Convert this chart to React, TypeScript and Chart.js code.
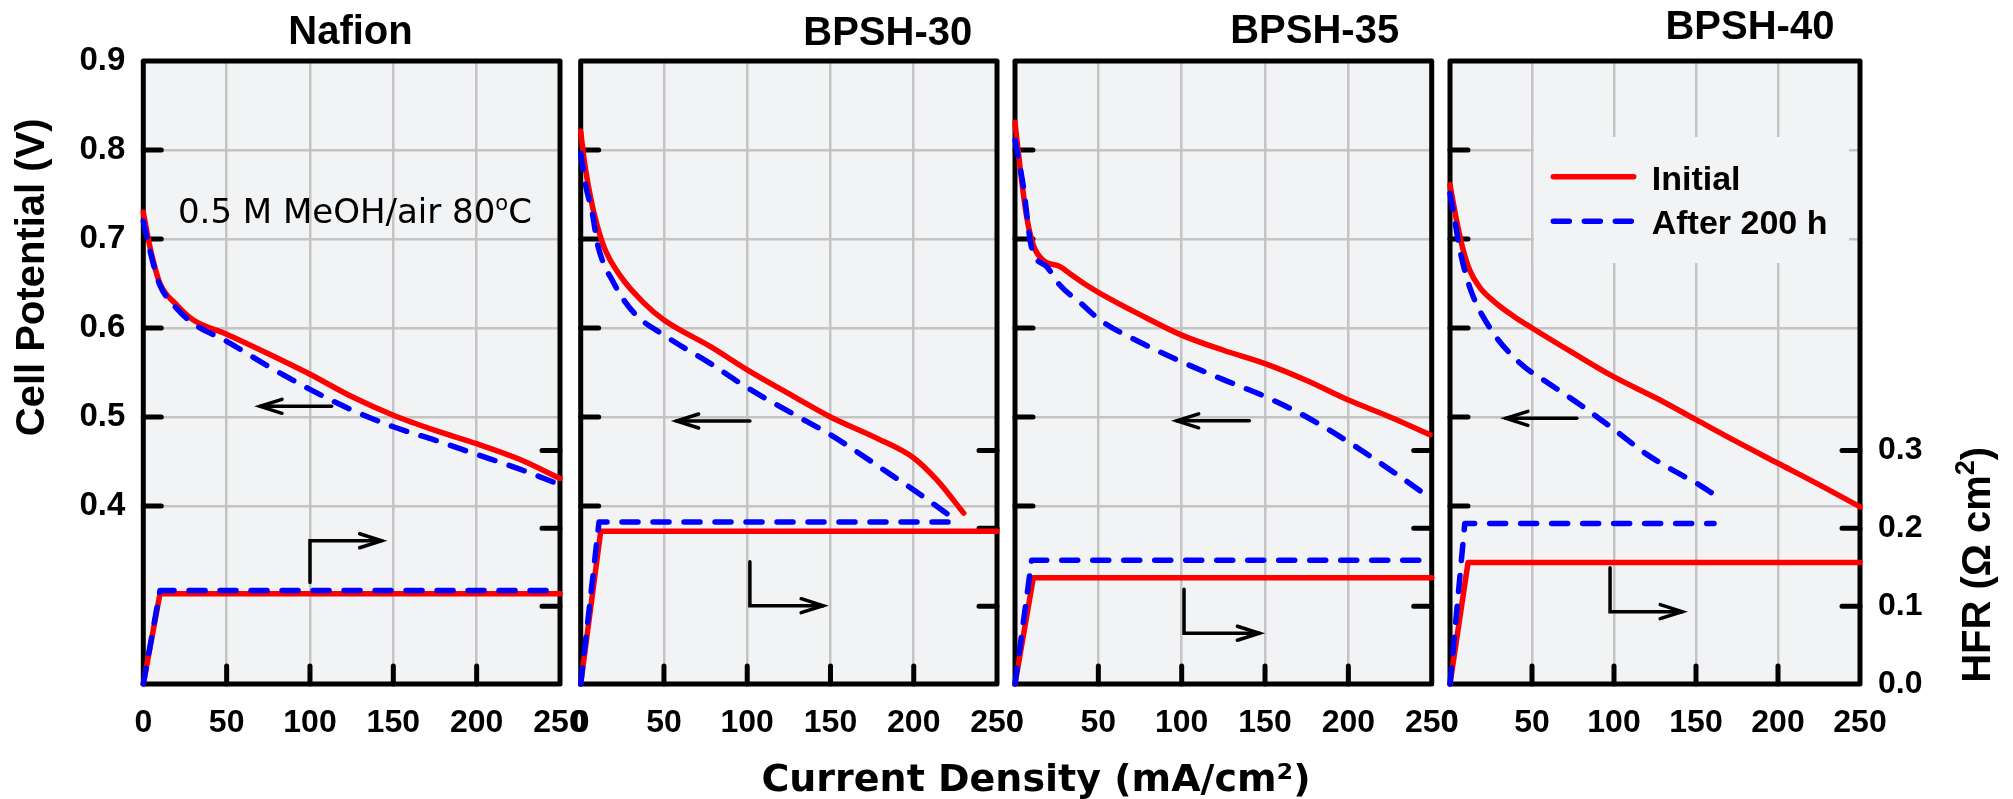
import { useEffect, useRef } from "react";
import { Chart, registerables } from "chart.js";

Chart.register(...registerables);

const PAGE_W = 2013;
const PAGE_H = 799;

// ---------- axes ----------
const X_MIN = 0;
const X_MAX = 250;
const X_TICKS = [0, 50, 100, 150, 200, 250];
const X_TICK_MARKS = [50, 100, 150, 200];
const V_MIN = 0.2;
const V_MAX = 0.9;
const V_TICKS = [0.4, 0.5, 0.6, 0.7, 0.8, 0.9];
const V_TICK_MARKS = [0.4, 0.5, 0.6, 0.7, 0.8];
const HFR_MIN = 0;
const HFR_MAX = 0.8;
const HFR_TICKS = [0.0, 0.1, 0.2, 0.3];
const HFR_TICK_MARKS = [0.1, 0.2, 0.3];

const PANEL_TITLES = ["Nafion", "BPSH-30", "BPSH-35", "BPSH-40"];
const SERIES_LABELS = ["Initial", "After 200 h"];

// ---------- Nafion ----------
const nafionInitX = [0, 3, 6, 10, 20, 30, 50, 75, 100, 125, 150, 175, 200, 225, 250];
const nafionInitV = [0.73, 0.70, 0.675, 0.65, 0.626, 0.609, 0.593, 0.571, 0.548, 0.523, 0.502, 0.485, 0.470, 0.453, 0.431];
const nafionAfterX = [0, 3, 6, 10, 20, 30, 50, 75, 100, 125, 150, 175, 200, 225, 250];
const nafionAfterV = [0.72, 0.695, 0.672, 0.648, 0.622, 0.605, 0.585, 0.557, 0.531, 0.508, 0.489, 0.474, 0.458, 0.442, 0.424];
const nafionHfrInitX = [0, 10, 250];
const nafionHfrInit = [0, 0.116, 0.116];
const nafionHfrAfterX = [0, 10, 250];
const nafionHfrAfter = [0, 0.12, 0.12];

// ---------- BPSH-30 ----------
const bpsh30InitX = [0, 2, 4, 8, 14, 24, 38, 50, 78, 100, 128, 150, 178, 200, 214, 230];
const bpsh30InitV = [0.821, 0.79, 0.766, 0.729, 0.691, 0.658, 0.628, 0.609, 0.579, 0.553, 0.523, 0.500, 0.476, 0.454, 0.429, 0.392];
const bpsh30AfterX = [0, 3, 7, 10, 20, 32, 50, 78, 100, 128, 150, 188, 200, 221];
const bpsh30AfterV = [0.796, 0.76, 0.729, 0.695, 0.65, 0.617, 0.592, 0.560, 0.533, 0.503, 0.48, 0.433, 0.418, 0.39];
const bpsh30HfrInitX = [0, 12, 250];
const bpsh30HfrInit = [0, 0.196, 0.196];
const bpsh30HfrAfterX = [0, 11, 221];
const bpsh30HfrAfter = [0, 0.208, 0.208];

// ---------- BPSH-35 ----------
const bpsh35InitX = [0, 3, 7, 11, 17, 27, 33, 43, 51, 75, 100, 125, 150, 175, 200, 225, 249];
const bpsh35InitV = [0.831, 0.781, 0.725, 0.693, 0.676, 0.669, 0.661, 0.648, 0.639, 0.615, 0.592, 0.575, 0.56, 0.541, 0.519, 0.50, 0.48];
const bpsh35AfterX = [0, 5, 10, 19, 27, 40, 51, 75, 100, 125, 150, 175, 200, 231, 249];
const bpsh35AfterV = [0.811, 0.759, 0.69, 0.669, 0.648, 0.627, 0.609, 0.584, 0.562, 0.542, 0.523, 0.50, 0.472, 0.433, 0.409];
const bpsh35HfrInitX = [0, 11, 250];
const bpsh35HfrInit = [0, 0.1365, 0.1365];
const bpsh35HfrAfterX = [0, 10, 250];
const bpsh35HfrAfter = [0, 0.159, 0.159];

// ---------- BPSH-40 ----------
const bpsh40InitX = [0, 4, 8, 12, 18, 28, 39, 50, 75, 100, 126, 150, 175, 200, 225, 250];
const bpsh40InitV = [0.761, 0.721, 0.688, 0.665, 0.646, 0.628, 0.613, 0.600, 0.572, 0.545, 0.521, 0.497, 0.472, 0.448, 0.424, 0.399];
const bpsh40AfterX = [0, 3, 6, 12, 24, 43, 60, 80, 100, 120, 140, 150, 161];
const bpsh40AfterV = [0.751, 0.72, 0.688, 0.646, 0.601, 0.56, 0.538, 0.513, 0.486, 0.458, 0.436, 0.426, 0.413];
const bpsh40HfrInitX = [0, 11, 250];
const bpsh40HfrInit = [0, 0.156, 0.156];
const bpsh40HfrAfterX = [0, 9, 161];
const bpsh40HfrAfter = [0, 0.206, 0.206];

// ---------- annotation arrows (data units: x mA/cm2, y V) ----------
const nafionArrows = [
  [[113, 0.512], [70, 0.512]],
  [[100, 0.314], [100, 0.361], [143, 0.361]],
];
const bpsh30Arrows = [
  [[101.6, 0.4955], [57.6, 0.4955]],
  [[101.6, 0.3374], [101.6, 0.288], [145.6, 0.288]],
];
const bpsh35Arrows = [
  [[140.6, 0.4957], [97, 0.4957]],
  [[101.4, 0.3064], [101.4, 0.257], [146.6, 0.257]],
];
const bpsh40Arrows = [
  [[77.3, 0.4985], [34.1, 0.4985]],
  [[97.6, 0.3307], [97.6, 0.2813], [141.6, 0.2813]],
];

// ---------- styles ----------
const BG = "#f2f3f5";
const GRID = "#c4c4c4";
const RED = "#ff0000";
const BLUE = "#0000ff";
const DASH = [16, 15];
const LINE_W = 5.5;
const ARIAL = '"Liberation Sans", Arial, sans-serif';
const VERDANA = '"DejaVu Sans", Verdana, sans-serif';

const TOP = 61;
const BOTTOM = 684;
const XH = 80;
const YW = 100;
const Y1W = 100;

const toPts = (xs: number[], ys: number[]) => xs.map((x, i) => ({ x, y: ys[i] }));

const panels = [
  {
    title: PANEL_TITLES[0], left: 143.3, right: 560, titleX: 124.3, titleRaise: 16.7,
    init: toPts(nafionInitX, nafionInitV), after: toPts(nafionAfterX, nafionAfterV),
    hInit: toPts(nafionHfrInitX, nafionHfrInit), hAfter: toPts(nafionHfrAfterX, nafionHfrAfter),
    arrows: nafionArrows, yLabels: true, y1Labels: false, yTitle: true, note: true, legend: false, xTitle: false, y1Title: false,
  },
  {
    title: PANEL_TITLES[1], left: 580.7, right: 997, titleX: 184.4, titleRaise: 16,
    init: toPts(bpsh30InitX, bpsh30InitV), after: toPts(bpsh30AfterX, bpsh30AfterV),
    hInit: toPts(bpsh30HfrInitX, bpsh30HfrInit), hAfter: toPts(bpsh30HfrAfterX, bpsh30HfrAfter),
    arrows: bpsh30Arrows, yLabels: false, y1Labels: false, yTitle: false, note: false, legend: false, xTitle: true, y1Title: false,
  },
  {
    title: PANEL_TITLES[2], left: 1015, right: 1431.7, titleX: 179.8, titleRaise: 18.3,
    init: toPts(bpsh35InitX, bpsh35InitV), after: toPts(bpsh35AfterX, bpsh35AfterV),
    hInit: toPts(bpsh35HfrInitX, bpsh35HfrInit), hAfter: toPts(bpsh35HfrAfterX, bpsh35HfrAfter),
    arrows: bpsh35Arrows, yLabels: false, y1Labels: false, yTitle: false, note: false, legend: false, xTitle: false, y1Title: false,
  },
  {
    title: PANEL_TITLES[3], left: 1450, right: 1860, titleX: 182.9, titleRaise: 22,
    init: toPts(bpsh40InitX, bpsh40InitV), after: toPts(bpsh40AfterX, bpsh40AfterV),
    hInit: toPts(bpsh40HfrInitX, bpsh40HfrInit), hAfter: toPts(bpsh40HfrAfterX, bpsh40HfrAfter),
    arrows: bpsh40Arrows, yLabels: false, y1Labels: true, yTitle: false, note: false, legend: true, xTitle: false, y1Title: true,
  },
];

function drawArrow(ctx: CanvasRenderingContext2D, pts: number[][]) {
  ctx.beginPath();
  ctx.moveTo(pts[0][0], pts[0][1]);
  for (let i = 1; i < pts.length; i++) ctx.lineTo(pts[i][0], pts[i][1]);
  ctx.stroke();
  const [tx, ty] = pts[pts.length - 1];
  const [px, py] = pts[pts.length - 2];
  const ang = Math.atan2(ty - py, tx - px);
  const hl = 22;
  const hw = 7;
  const bx = tx - hl * Math.cos(ang);
  const by = ty - hl * Math.sin(ang);
  const sx = -Math.sin(ang) * hw;
  const sy = Math.cos(ang) * hw;
  ctx.beginPath();
  ctx.moveTo(bx + sx, by + sy);
  ctx.lineTo(tx, ty);
  ctx.lineTo(bx - sx, by - sy);
  ctx.stroke();
}

type Part = { t: string; size: number; raise: number; font: string; weight: string };

function drawParts(ctx: CanvasRenderingContext2D, parts: Part[], x: number, y: number, align: "left" | "center") {
  ctx.textAlign = "left";
  ctx.textBaseline = "alphabetic";
  const widths = parts.map((p) => {
    ctx.font = `${p.weight} ${p.size}px ${p.font}`;
    return ctx.measureText(p.t).width;
  });
  const total = widths.reduce((a, b) => a + b, 0);
  let cx = align === "center" ? x - total / 2 : x;
  parts.forEach((p, i) => {
    ctx.font = `${p.weight} ${p.size}px ${p.font}`;
    ctx.fillText(p.t, cx, y - p.raise);
    cx += widths[i];
  });
}

function makePlugin(p: any) {
  return {
    id: "panelDeco",
    beforeDraw(chart: any) {
      const { ctx, chartArea: a } = chart;
      ctx.save();
      ctx.fillStyle = BG;
      ctx.fillRect(a.left, a.top, a.right - a.left, a.bottom - a.top);
      ctx.restore();
    },
    beforeDatasetsDraw(chart: any) {
      const { ctx, chartArea: a, scales } = chart;
      const xs = scales.x;
      const ys = scales.y;
      const y1 = scales.y1;
      ctx.save();
      if (p.legend) {
        const x0 = xs.getPixelForValue(51.2);
        const x1 = xs.getPixelForValue(243.3);
        const t0 = ys.getPixelForValue(0.8146);
        const t1 = ys.getPixelForValue(0.673);
        ctx.fillStyle = BG;
        ctx.fillRect(x0, t0, x1 - x0, t1 - t0);
      }
      ctx.strokeStyle = "#000";
      ctx.lineWidth = 5;
      ctx.lineCap = "round";
      const TL = 18;
      ctx.beginPath();
      V_TICK_MARKS.forEach((v) => {
        const py = ys.getPixelForValue(v);
        ctx.moveTo(a.left, py);
        ctx.lineTo(a.left + TL, py);
      });
      HFR_TICK_MARKS.forEach((v) => {
        const py = y1.getPixelForValue(v);
        ctx.moveTo(a.right, py);
        ctx.lineTo(a.right - TL, py);
      });
      X_TICK_MARKS.forEach((v) => {
        const px = xs.getPixelForValue(v);
        ctx.moveTo(px, a.bottom);
        ctx.lineTo(px, a.bottom - TL);
      });
      ctx.stroke();
      ctx.lineJoin = "round";
      ctx.strokeRect(a.left, a.top, a.right - a.left, a.bottom - a.top);
      ctx.restore();
    },
    afterDatasetsDraw(chart: any) {
      const { ctx, chartArea: a, scales } = chart;
      const xs = scales.x;
      const ys = scales.y;
      const y1 = scales.y1;
      ctx.save();
      // arrows
      ctx.strokeStyle = "#000";
      ctx.lineWidth = 3.5;
      ctx.lineCap = "round";
      ctx.lineJoin = "miter";
      p.arrows.forEach((arr: number[][]) => {
        drawArrow(ctx, arr.map(([vx, vy]) => [xs.getPixelForValue(vx), ys.getPixelForValue(vy)]));
      });
      ctx.fillStyle = "#000";
      // panel title
      ctx.font = `bold 40px ${ARIAL}`;
      ctx.textAlign = "center";
      ctx.textBaseline = "alphabetic";
      ctx.fillText(p.title, xs.getPixelForValue(p.titleX), a.top - p.titleRaise);
      // condition note
      if (p.note) {
        drawParts(
          ctx,
          [
            { t: "0.5 M MeOH/air 80", size: 34, raise: 0, font: VERDANA, weight: "normal" },
            { t: "o", size: 21, raise: 12.5, font: VERDANA, weight: "normal" },
            { t: "C", size: 34, raise: 0, font: VERDANA, weight: "normal" },
          ],
          xs.getPixelForValue(20.8),
          ys.getPixelForValue(0.718),
          "left"
        );
      }
      // left y title
      if (p.yTitle) {
        ctx.save();
        ctx.translate(a.left - 99.3, ys.getPixelForValue(0.657));
        ctx.rotate(-Math.PI / 2);
        ctx.font = `bold 40px ${ARIAL}`;
        ctx.textAlign = "center";
        ctx.textBaseline = "alphabetic";
        ctx.fillText("Cell Potential (V)", 0, 0);
        ctx.restore();
      }
      // right y title
      if (p.y1Title) {
        ctx.save();
        ctx.translate(a.right + 130, y1.getPixelForValue(0.153));
        ctx.rotate(-Math.PI / 2);
        drawParts(
          ctx,
          [
            { t: "HFR (\u03A9 cm", size: 40, raise: 0, font: ARIAL, weight: "bold" },
            { t: "2", size: 27, raise: 16, font: ARIAL, weight: "bold" },
            { t: ")", size: 40, raise: 0, font: ARIAL, weight: "bold" },
          ],
          0,
          0,
          "center"
        );
        ctx.restore();
      }
      // x title
      if (p.xTitle) {
        ctx.font = `bold 38px ${VERDANA}`;
        ctx.textAlign = "center";
        ctx.textBaseline = "alphabetic";
        ctx.fillText("Current Density (mA/cm\u00B2)", 1036, 791);
      }
      // legend
      if (p.legend) {
        const lx0 = xs.getPixelForValue(63);
        const lx1 = xs.getPixelForValue(112);
        const tx = xs.getPixelForValue(123);
        const rows = [
          { v: 0.77, color: RED, dash: [] as number[], label: SERIES_LABELS[0] },
          { v: 0.72, color: BLUE, dash: DASH, label: SERIES_LABELS[1] },
        ];
        rows.forEach((r) => {
          const py = ys.getPixelForValue(r.v);
          ctx.save();
          ctx.strokeStyle = r.color;
          ctx.lineWidth = LINE_W;
          ctx.lineCap = "round";
          ctx.setLineDash(r.dash);
          ctx.beginPath();
          ctx.moveTo(lx0, py);
          ctx.lineTo(lx1, py);
          ctx.stroke();
          ctx.restore();
          ctx.font = `bold 34px ${ARIAL}`;
          ctx.textAlign = "left";
          ctx.textBaseline = "alphabetic";
          ctx.fillStyle = "#000";
          ctx.fillText(r.label, tx, py + 13);
        });
      }
      ctx.restore();
    },
  };
}

function buildConfig(p: any): any {
  const tickFont = (size: number) => ({ family: ARIAL, size, weight: "bold" as const });
  return {
    type: "line",
    data: {
      datasets: [
        {
          label: SERIES_LABELS[0], data: p.init, yAxisID: "y", borderColor: RED, borderWidth: LINE_W,
          pointRadius: 0, cubicInterpolationMode: "monotone", borderCapStyle: "round", borderJoinStyle: "round",
          clip: false, order: 1,
        },
        {
          label: SERIES_LABELS[1], data: p.after, yAxisID: "y", borderColor: BLUE, borderWidth: LINE_W,
          borderDash: DASH, pointRadius: 0, cubicInterpolationMode: "monotone", borderCapStyle: "round",
          borderJoinStyle: "round", clip: false, order: 0,
        },
        {
          label: SERIES_LABELS[0] + " HFR", data: p.hInit, yAxisID: "y1", borderColor: RED, borderWidth: LINE_W,
          pointRadius: 0, tension: 0, borderCapStyle: "round", borderJoinStyle: "round", clip: false, order: 1,
        },
        {
          label: SERIES_LABELS[1] + " HFR", data: p.hAfter, yAxisID: "y1", borderColor: BLUE, borderWidth: LINE_W,
          borderDash: DASH, pointRadius: 0, tension: 0, borderCapStyle: "round", borderJoinStyle: "round",
          clip: false, order: 0,
        },
      ],
    },
    options: {
      responsive: false,
      animation: false,
      devicePixelRatio: 1,
      events: [],
      layout: {
        padding: {
          left: p.left - YW,
          right: PAGE_W - p.right - Y1W,
          top: TOP,
          bottom: PAGE_H - BOTTOM - XH,
        },
      },
      plugins: { legend: { display: false }, tooltip: { enabled: false }, title: { display: false } },
      scales: {
        x: {
          type: "linear",
          min: X_MIN,
          max: X_MAX,
          afterBuildTicks: (s: any) => { s.ticks = X_TICKS.map((v) => ({ value: v })); },
          afterFit: (s: any) => { s.height = XH; },
          grid: {
            drawTicks: false,
            lineWidth: 2.5,
            color: (c: any) => (c.tick && c.tick.value > X_MIN && c.tick.value < X_MAX ? GRID : "rgba(0,0,0,0)"),
          },
          border: { display: false },
          ticks: {
            color: "#000", font: tickFont(32), padding: 20, autoSkip: false, maxRotation: 0,
            callback: (v: any) => String(v),
          },
        },
        y: {
          type: "linear",
          position: "left",
          min: V_MIN,
          max: V_MAX,
          afterBuildTicks: (s: any) => { s.ticks = V_TICKS.map((v) => ({ value: v })); },
          afterFit: (s: any) => { s.width = YW; },
          grid: {
            drawTicks: false,
            lineWidth: 2.5,
            color: (c: any) => (c.tick && c.tick.value < 0.85 ? GRID : "rgba(0,0,0,0)"),
          },
          border: { display: false },
          ticks: {
            display: p.yLabels, color: "#000", font: tickFont(33), padding: 18,
            callback: (v: any) => Number(v).toFixed(1),
          },
        },
        y1: {
          type: "linear",
          position: "right",
          min: HFR_MIN,
          max: HFR_MAX,
          afterBuildTicks: (s: any) => { s.ticks = HFR_TICKS.map((v) => ({ value: v })); },
          afterFit: (s: any) => { s.width = Y1W; },
          grid: { display: false, drawTicks: false },
          border: { display: false },
          ticks: {
            display: p.y1Labels, color: "#000", font: tickFont(32), padding: 18,
            callback: (v: any) => Number(v).toFixed(1),
          },
        },
      },
    },
    plugins: [makePlugin(p)],
  };
}

function Panel({ p }: { p: any }) {
  const ref = useRef<HTMLCanvasElement | null>(null);
  useEffect(() => {
    if (!ref.current) return;
    const chart = new Chart(ref.current, buildConfig(p));
    return () => chart.destroy();
  }, [p]);
  return (
    <canvas
      ref={ref}
      width={PAGE_W}
      height={PAGE_H}
      style={{ position: "absolute", left: 0, top: 0, width: PAGE_W, height: PAGE_H }}
    />
  );
}

export default function App() {
  return (
    <div
      style={{
        position: "absolute",
        left: 0,
        top: 0,
        width: PAGE_W,
        height: PAGE_H,
        background: "#ffffff",
        overflow: "hidden",
      }}
    >
      {panels.map((p, i) => (
        <Panel key={i} p={p} />
      ))}
    </div>
  );
}
